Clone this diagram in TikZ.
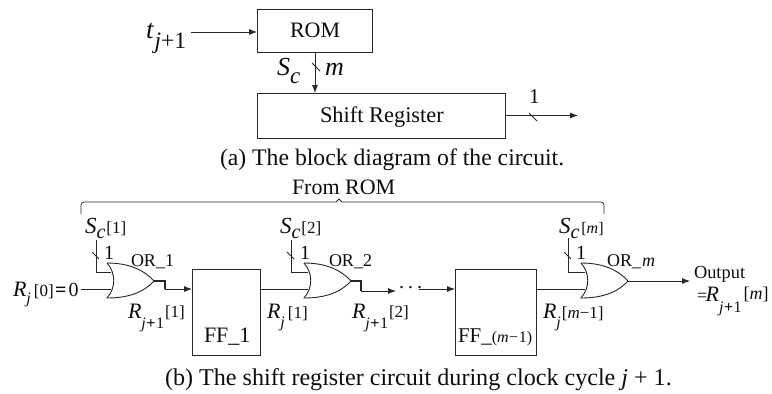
\documentclass[tikz,border=0pt]{standalone}
\usepackage{fontspec}
\setmainfont{Liberation Serif}
\usetikzlibrary{arrows.meta}
\newcommand\fs[1]{\fontsize{#1}{#1}\selectfont}
% symbol with lowered subscript and following bracket text
\newcommand\symsub[5]{\fs{#1}\textit{#2}\kern #3pt\raisebox{-#4pt}{\fs{16}#5}}
\newcommand\brk[1]{\kern 1pt\fs{17}#1}
\newcommand\jp{\textit{j}\kern.5pt\textbf{+}\kern.5pt 1}
\tikzset{
  x=1pt,y=-1pt,
  wire/.style={line width=0.8pt,draw=black!85},
  flow/.style={wire,-{Latex[length=8pt,width=6pt]}},
  boxnode/.style={draw=black!85,line width=0.9pt,minimum width=0pt},
  lab/.style={anchor=base west,inner sep=0pt,outer sep=0pt,text=black!95},
}
\newcommand\orgate[2]{%
  \draw[wire,line width=0.9pt] (#2,263) .. controls (#2+22,263) and (#2+37,270) .. (#2+47,281)
     .. controls (#2+37,292) and (#2+22,298) .. (#2,298)
     .. controls (#2+9,288) and (#2+9,273) .. (#2,263);
  \coordinate (#1a) at (#2+4,272);
  \coordinate (#1b) at (#2+4,289);
  \coordinate (#1o) at (#2+47,281);
}
\begin{document}
\begin{tikzpicture}
\useasboundingbox (0,0) rectangle (772,394);
% --- part (a)
\node[boxnode,minimum width=115pt,minimum height=43pt,anchor=north west] (rom) at (257,9) {};
\node[lab] (romt) at (290,37) {\fs{22}ROM};
\node[boxnode,minimum width=248pt,minimum height=45pt,anchor=north west] (sr) at (257,93) {};
\node[lab] (srt) at (320,122) {\fs{22.4}Shift Register};
\node[lab] (t) at (146,38) {\fs{27}\textit{t}\raisebox{-10pt}{\fs{23.5}\kern.5pt\textit{j}+1}};
\coordinate (tin) at (191,32);
\coordinate (romb) at (315,52);
\coordinate (srt2) at (315,93);
\coordinate (srr) at (505,115.5);
\coordinate (out) at (578,115.5);
\draw[flow] (tin) -- (tin -| rom.west);
\draw[flow] (romb) -- (srt2);
\draw[flow] (srr) -- (out);
\coordinate (t1a) at (312,63); \coordinate (t1b) at (320,71);
\draw[wire] (t1a) -- (t1b);
\coordinate (t2a) at (529,113); \coordinate (t2b) at (537,121);
\draw[wire] (t2a) -- (t2b);
\node[lab] (sc) at (277,75) {\symsub{26}{S}{0}{8}{\fs{23}\textit{c}}};
\node[lab] (mm) at (325,75) {\fs{26}\textit{m}};
\node[lab] (one) at (529,103) {\fs{21}1};
\node[lab] (capa) at (220,165) {\fs{23.7}(a) The block diagram of the circuit.};
% --- brace
\node[lab] (from) at (292,194) {\fs{22}From ROM};
\coordinate (bl) at (81,214);
\coordinate (br) at (604,214);
\draw[wire,rounded corners=3pt] (bl) -- (81,202) [sharp corners] -- (336,202) -- (339,199) -- (342,202) [rounded corners=3pt] -- (604,202) -- (br);
% --- gates
\orgate{g1}{107}
\orgate{g2}{304}
\orgate{g3}{581}
% --- flip-flops
\node[boxnode,minimum width=68pt,minimum height=86pt,anchor=north west] (ff1) at (192,269) {};
\node[boxnode,minimum width=81pt,minimum height=86pt,anchor=north west] (ffm) at (455,269) {};
\node[lab] (ff1t) at (204,342) {\fs{22}FF\_1};
\node[lab] (ffmt) at (458,342) {\fs{21}FF\_\fs{16}(\textit{m}\kern.5pt−\kern.5pt1)};
% --- S_c inputs
\coordinate (s1) at (96,240); \coordinate (s2) at (291,240); \coordinate (s3) at (568,238);
\draw[wire] (s1) |- (g1a);
\draw[wire] (s2) |- (g2a);
\draw[wire] (s3) |- (g3a);
\draw[wire] (92,252) -- (99,259);
\draw[wire] (287,252) -- (294,259);
\draw[wire] (564,252) -- (571,259);
% --- data path
\coordinate (r0) at (81,289);
\draw[wire] (r0) -- (g1b);
\coordinate (g1e) at (165,289);
\draw[wire,line width=1.1pt] (g1o) -| (g1e);
\draw[flow] (g1e) -- (ff1.west |- g1e);
\draw[wire] (ff1.east |- g2b) -- (g2b);
\coordinate (g2e) at (361,291);
\draw[wire,line width=1.1pt] (g2o) -| (g2e);
\coordinate (g2f) at (396,291);
\draw[flow] (g2e) -- (g2f);
\node[lab] (dots) at (398,288) {\fs{20}\kern 1pt.\kern 4pt.\kern 4pt.};
\coordinate (ml) at (419,289);
\draw[flow] (ml) -- (ffm.west |- ml);
\draw[wire] (ffm.east |- g3b) -- (g3b);
\coordinate (oend) at (690,281);
\draw[flow] (g3o) -- (oend);
% --- labels
\node[lab] (ls1) at (85,233) {\symsub{23}{S}{0}{5}{\fs{20}\textit{c}}\brk{[1]}};
\node[lab] (ls2) at (280,233) {\symsub{23}{S}{0}{5}{\fs{20}\textit{c}}\brk{[2]}};
\node[lab] (ls3) at (559,233) {\symsub{23}{S}{0}{5}{\fs{20}\textit{c}}\kern 2pt\fs{16}[\textit{m}]};
\node[lab] (n1) at (104,259) {\fs{20}1};
\node[lab] (n2) at (300,259) {\fs{20}1};
\node[lab] (n3) at (576,259) {\fs{20}1};
\node[lab] (o1) at (131,266) {\fs{18}OR\_1};
\node[lab] (o2) at (329,266) {\fs{18}OR\_2};
\node[lab] (o3) at (607,266) {\fs{18}OR\_\kern 1pt\textit{m}};
\node[lab] (r00) at (13,296) {\symsub{22}{R}{0}{7}{\textit{j}}\kern 3pt\fs{17}[0]\kern 1.5pt\fs{20}\textbf{=}\kern 2pt 0};
\node[lab] (rr1) at (128,318) {\symsub{22}{R}{0}{10}{\jp}\raisebox{1pt}{\brk{[1]}}};
\node[lab] (rj1) at (267,318) {\symsub{22}{R}{0}{9}{\textit{j}}\kern 3pt\fs{17}[1]};
\node[lab] (rr2) at (352,318) {\symsub{22}{R}{0}{10}{\jp}\raisebox{1pt}{\brk{[2]}}};
\node[lab] (rjm) at (543,318) {\symsub{22}{R}{0}{9}{\textit{j}}\kern 1pt\fs{17}[\textit{m}−1]};
\node[lab] (ot) at (694,278) {\fs{18.4}Output};
\node[lab] (ot2) at (697,301) {\fs{18}=\kern -1.5pt\symsub{22}{R}{0}{11}{\jp}\raisebox{2pt}{\kern 2pt\fs{18}[\textit{m}]}};
\node[lab] (capb) at (165,385) {\fs{24.1}(b) The shift register circuit during clock cycle \textit{j} + 1.};
\end{tikzpicture}
\end{document}
